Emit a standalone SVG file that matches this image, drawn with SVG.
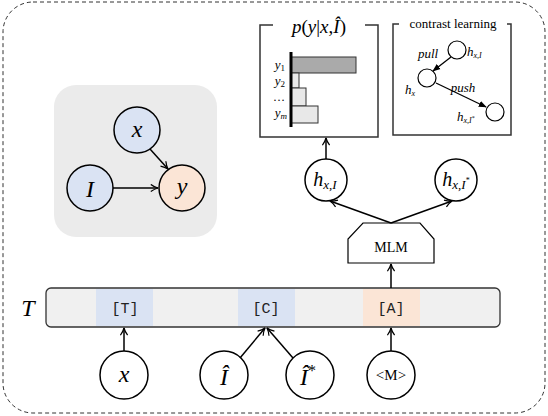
<svg xmlns="http://www.w3.org/2000/svg" width="548" height="416" viewBox="0 0 548 416" font-family="'Liberation Serif', 'Times New Roman', serif">
<defs>
<marker id="ah" viewBox="0 0 10 10" refX="9" refY="5" markerWidth="9" markerHeight="9" markerUnits="userSpaceOnUse" orient="auto">
<path d="M1,1 Q5,4 9,5 Q5,6 1,9" fill="none" stroke="#000" stroke-width="1.4"/>
</marker>
<marker id="ahs" viewBox="0 0 10 10" refX="9" refY="5" markerWidth="8" markerHeight="8" markerUnits="userSpaceOnUse" orient="auto">
<path d="M0,1 L10,5 L0,9 Z" fill="#000"/>
</marker>
</defs>
<style>
text{font-family:'Liberation Serif','Times New Roman',serif}
.m{font-style:italic;fill:#000}
.r{fill:#000}
.tt{font-family:'Liberation Mono','Courier New',monospace;font-size:15px;fill:#222}
.nd{stroke:#000;stroke-width:1.5}
.ln{stroke:#000;stroke-width:1.5;fill:none;marker-end:url(#ah)}
.lns{stroke:#000;stroke-width:1.3;fill:none;marker-end:url(#ahs)}
.bx{stroke:#333;stroke-width:1.5;fill:none}
</style>
<rect x="3" y="2" width="542" height="411" rx="30" fill="none" stroke="#333" stroke-width="1" stroke-dasharray="4,3"/>

<g id="causal">
<rect x="54" y="85" width="163" height="152" rx="22" fill="#ebebeb"/>
</g>
<g id="node-x"><circle class="nd" cx="137" cy="130" r="23" fill="#dae3f3"/><text class="m" x="137" y="137" font-size="24" text-anchor="middle">x</text></g>
<g id="node-I"><circle class="nd" cx="90" cy="188" r="23" fill="#dae3f3"/><text class="m" x="90" y="197" font-size="24" text-anchor="middle">I</text></g>
<g id="node-y"><circle class="nd" cx="182" cy="188" r="23" fill="#fbe5d6"/><text class="m" x="182" y="194" font-size="24" text-anchor="middle">y</text></g>

<g id="pbox">
<path class="bx" d="M273,25 H260 V137 H378 V25 H365"/>
<text class="m" x="319" y="33" font-size="19" text-anchor="middle">p<tspan font-style="normal">(</tspan>y<tspan font-style="normal">|</tspan>x<tspan font-style="normal">,</tspan>Î<tspan font-style="normal">)</tspan></text>
<rect x="291" y="57" width="65" height="16" fill="#aaaaaa" stroke="#333" stroke-width="1"/>
<rect x="291" y="73" width="8" height="15" fill="#e8e8e8" stroke="#333" stroke-width="1"/>
<rect x="291" y="88" width="15" height="18" fill="#e8e8e8" stroke="#333" stroke-width="1"/>
<rect x="291" y="106" width="27" height="17" fill="#e8e8e8" stroke="#333" stroke-width="1"/>
<line x1="291" y1="52" x2="291" y2="127" stroke="#000" stroke-width="3"/>
<text class="m" x="285" y="69" font-size="13" text-anchor="end">y<tspan font-style="normal" font-size="9" dy="2">1</tspan></text>
<text class="m" x="285" y="85" font-size="13" text-anchor="end">y<tspan font-style="normal" font-size="9" dy="2">2</tspan></text>
<text class="r" x="285" y="101" font-size="12" text-anchor="end">…</text>
<text class="m" x="287" y="117" font-size="13" text-anchor="end">y<tspan font-size="9" dy="2">m</tspan></text>
</g>

<g id="contrast">
<path class="bx" d="M399,24 H393 V135 H511 V24 H507"/>
<text class="r" x="453" y="28" font-size="13" text-anchor="middle">contrast learning</text>
<circle cx="457" cy="50" r="9" fill="#fff" stroke="#000" stroke-width="1.2"/>
<circle cx="427" cy="78" r="9" fill="#fff" stroke="#000" stroke-width="1.2"/>
<circle cx="495" cy="112" r="9" fill="#fff" stroke="#000" stroke-width="1.2"/>
<text class="m" x="428" y="58" font-size="13" text-anchor="middle">pull</text>
<text class="m" x="463" y="92" font-size="13" text-anchor="middle">push</text>
<text class="m" x="467" y="56" font-size="13">h<tspan font-size="8" dy="2">x,I</tspan></text>
<text class="m" x="405" y="94" font-size="13">h<tspan font-size="8" dy="2">x</tspan></text>
<text class="m" x="457" y="121" font-size="13">h<tspan font-size="8" dy="2">x,I</tspan><tspan font-size="6" font-style="normal" dy="-3">*</tspan></text>
</g>

<g id="node-hxI"><circle class="nd" cx="326" cy="180" r="21" fill="#fff"/><text class="m" x="325" y="186" font-size="20" text-anchor="middle">h<tspan font-size="13" dy="3">x,I</tspan></text></g>
<g id="node-hxIs"><circle class="nd" cx="456" cy="180" r="21" fill="#fff"/><text class="m" x="456" y="186" font-size="20" text-anchor="middle">h<tspan font-size="13" dy="3">x,I</tspan><tspan font-size="8" font-style="normal" dy="-6">*</tspan></text></g>

<g id="node-MLM"><polygon points="363,223 420,223 434,239 434,263 348,263 348,239" fill="#fff" stroke="#000" stroke-width="1.2"/><text class="r" x="391" y="252" font-size="14" text-anchor="middle">MLM</text></g>

<g id="node-T">
<rect x="46" y="288" width="454" height="39" rx="5" fill="#f0f0f0"/>
<rect x="96" y="289" width="57" height="37" fill="#dae3f3"/>
<rect x="238" y="289" width="57" height="37" fill="#dae3f3"/>
<rect x="363" y="289" width="57" height="37" fill="#fbe5d6"/>
<rect x="46" y="288" width="454" height="39" rx="5" fill="none" stroke="#333" stroke-width="1.3"/>
<text class="tt" x="125" y="313" text-anchor="middle">[T]</text>
<text class="tt" x="266" y="313" text-anchor="middle">[C]</text>
<text class="tt" x="391" y="313" text-anchor="middle">[A]</text>
<text class="m" x="28" y="316" font-size="24" text-anchor="middle">T</text>
</g>

<g id="node-xin"><circle class="nd" cx="124" cy="375" r="24" fill="#fff"/><text class="m" x="124" y="382" font-size="24" text-anchor="middle">x</text></g>
<g id="node-Ihat"><circle class="nd" cx="224" cy="375" r="24" fill="#fff"/><text class="m" x="224" y="385" font-size="24" text-anchor="middle">Î</text></g>
<g id="node-Ihats"><circle class="nd" cx="310" cy="375" r="24" fill="#fff"/><text class="m" x="308" y="385" font-size="24" text-anchor="middle">Î<tspan font-size="16" font-style="normal" dy="-9">*</tspan></text></g>
<g id="node-M"><circle class="nd" cx="391" cy="375" r="24" fill="#fff"/><text class="r" x="391" y="380" font-size="15" text-anchor="middle">&lt;M&gt;</text></g>

<g id="connectors">
<line class="ln" x1="113" y1="188" x2="158" y2="188"/>
<line class="ln" x1="150" y1="149" x2="168" y2="169"/>
<line class="ln" x1="124" y1="351" x2="124" y2="328"/>
<line class="ln" x1="240" y1="358" x2="265" y2="328"/>
<line class="ln" x1="293" y1="358" x2="267" y2="328"/>
<line class="ln" x1="391" y1="351" x2="391" y2="328"/>
<line class="ln" x1="391" y1="288" x2="391" y2="264"/>
<line class="ln" x1="391" y1="223" x2="330" y2="201"/>
<line class="ln" x1="391" y1="223" x2="452" y2="201"/>
<line class="ln" x1="326" y1="159" x2="326" y2="138"/>
<line class="lns" x1="451" y1="57" x2="433" y2="71"/>
<line class="lns" x1="436" y1="83" x2="486" y2="107"/>
</g>
</svg>
